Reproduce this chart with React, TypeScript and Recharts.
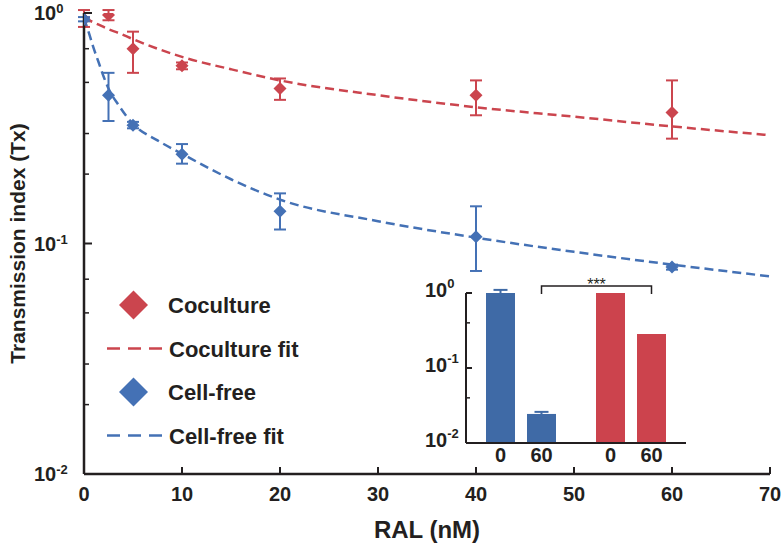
import React from 'react';
import { ComposedChart, BarChart, Bar, Line, Scatter, ErrorBar, XAxis, YAxis, Legend, Cell, Label } from 'recharts';

const RED = '#cb454e';
const BLUE = '#4471b5';
const INSET_BLUE = '#3f6aa6';
const INSET_RED = '#cc434d';
const INK = '#231f20';
const FONT = '"Liberation Sans", Arial, sans-serif';

// measured points: Tx vs RAL dose (nM), with error bar ends
const ralDoses = [0, 2.5, 5, 10, 20, 40, 60];
const cocultureTx = [0.94, 0.98, 0.7, 0.59, 0.47, 0.44, 0.37];
const cocultureLow = [0.87, 0.93, 0.55, 0.57, 0.42, 0.36, 0.285];
const cocultureHigh = [1.03, 1.03, 0.83, 0.61, 0.52, 0.51, 0.51];
const cellFreeTx = [0.94, 0.44, 0.326, 0.244, 0.138, 0.107, 0.079];
const cellFreeLow = [0.92, 0.34, 0.316, 0.222, 0.115, 0.076, 0.077];
const cellFreeHigh = [0.96, 0.55, 0.337, 0.27, 0.165, 0.145, 0.081];

// dashed fit curves
const fitDoses = [0, 0.5, 1, 1.5, 2, 2.5, 3.5, 5, 7.5, 10, 15, 20, 30, 40, 50, 60, 70];
const cocultureFit = [0.95, 0.93, 0.91, 0.89, 0.87, 0.85, 0.82, 0.77, 0.7, 0.645, 0.57, 0.51, 0.44, 0.39, 0.355, 0.322, 0.295];
const cellFreeFit = [0.95, 0.82, 0.7, 0.61, 0.53, 0.47, 0.4, 0.33, 0.28, 0.245, 0.19, 0.155, 0.125, 0.106, 0.092, 0.081, 0.072];

// inset: Tx at 0 and 60 nM
const insetGroups = ['Cell-free', 'Coculture'];
const insetDoseLabels = ['0', '60'];
const insetAt0 = [1.0, 1.0];
const insetAt60 = [0.0244, 0.284];
const insetAt0Err = [0.1, null];
const insetAt60Err = [0.0016, null];

const xTicks = [0, 10, 20, 30, 40, 50, 60, 70];
const logTicks = [0.01, 0.02, 0.03, 0.04, 0.05, 0.06, 0.07, 0.08, 0.09, 0.1, 0.2, 0.3, 0.4, 0.5, 0.6, 0.7, 0.8, 0.9, 1];

const points = (ys: number[], lo: number[], hi: number[]) =>
  ralDoses.map((x, i) => ({ x, y: ys[i], err: [ys[i] - lo[i], hi[i] - ys[i]] }));
const coculturePoints = points(cocultureTx, cocultureLow, cocultureHigh);
const cellFreePoints = points(cellFreeTx, cellFreeLow, cellFreeHigh);
const cocultureCurve = fitDoses.map((x, i) => ({ x, y: cocultureFit[i] }));
const cellFreeCurve = fitDoses.map((x, i) => ({ x, y: cellFreeFit[i] }));
const insetData = insetGroups.map((g, i) => ({
  group: g, d0: insetAt0[i], d60: insetAt60[i], e0: insetAt0Err[i], e60: insetAt60Err[i],
}));
const insetColors = [INSET_BLUE, INSET_RED];

const isDecade = (v: number) => {
  const l = Math.log10(v);
  return Math.abs(l - Math.round(l)) < 1e-6;
};

const makeLogTick = (gap: number, majorLen: number, minorLen: number, labelDx: number, dy: number, supDy: number) =>
  (props: any) => {
    const { x, y, payload } = props;
    const ax = x + gap;
    const v = payload.value;
    const major = isDecade(v);
    return (
      <g>
        <line x1={ax} x2={ax + (major ? majorLen : minorLen)} y1={y} y2={y} stroke={INK} strokeWidth={major ? 2 : 1.5} />
        {major && (
          <text x={ax - labelDx} y={y + dy} fontFamily={FONT} fontWeight="bold" fontSize={20} fill={INK}>
            10<tspan dy={supDy} fontSize={13}>{Math.round(Math.log10(v))}</tspan>
          </text>
        )}
      </g>
    );
  };

const MainYTick = makeLogTick(10, 8, 5, 50, 7, -7);
const InsetYTick = makeLogTick(10, 6, 4, 41, 4, -9);

const MainXTick = (props: any) => {
  const { x, y, payload } = props;
  const ay = y - 10;
  return (
    <g>
      <line x1={x} x2={x} y1={ay} y2={ay - 7} stroke={INK} strokeWidth={2} />
      <text x={x} y={ay + 27} textAnchor="middle" fontFamily={FONT} fontWeight="bold" fontSize={20} fill={INK}>
        {payload.value}
      </text>
    </g>
  );
};

const INSET_BAR = 29;
const INSET_GAP = 12;

const InsetXTick = (props: any) => {
  const { x, y } = props;
  const half = (INSET_BAR + INSET_GAP) / 2;
  return (
    <g>
      {insetDoseLabels.map((d, i) => (
        <text key={d} x={x + (i === 0 ? -half : half)} y={y + 19} textAnchor="middle" fontFamily={FONT} fontWeight="bold" fontSize={20} fill={INK}>
          {d}
        </text>
      ))}
    </g>
  );
};

const Diamond = (r: number) => (props: any) => {
  const { cx, cy, fill } = props;
  return <polygon points={`${cx},${cy - r} ${cx + r},${cy} ${cx},${cy + r} ${cx - r},${cy}`} fill={fill} />;
};

const legendItems = [
  { label: 'Coculture', color: RED, kind: 'marker' },
  { label: 'Coculture fit', color: RED, kind: 'line' },
  { label: 'Cell-free', color: BLUE, kind: 'marker' },
  { label: 'Cell-free fit', color: BLUE, kind: 'line' },
];

const LegendBox = () => (
  <svg width={230} height={170}>
    {legendItems.map((item, i) => {
      const cy = 20 + i * 43.5;
      return (
        <g key={item.label}>
          {item.kind === 'marker' ? (
            <polygon points={`33.5,${cy - 14.5} 48,${cy} 33.5,${cy + 14.5} 19,${cy}`} fill={item.color} />
          ) : (
            <line x1={7} x2={63} y1={cy} y2={cy} stroke={item.color} strokeWidth={2.5} strokeDasharray="13 8" />
          )}
          <text x={item.kind === 'marker' ? 68 : 69} y={cy + 8} fontFamily={FONT} fontWeight="bold" fontSize={22} fill={INK}>
            {item.label}
          </text>
        </g>
      );
    })}
  </svg>
);

export default function App() {
  const insetLeft = 420;
  const insetTop = 270;
  const insetW = 270;
  const insetYAxisW = 46;
  const insetPlotW = insetW - insetYAxisW - 4;
  const band = insetPlotW / insetGroups.length;
  const half = (INSET_BAR + INSET_GAP) / 2;
  const bx1 = insetLeft + insetYAxisW + band / 2 + half;
  const bx2 = insetLeft + insetYAxisW + band * 1.5 + half;

  return (
    <div style={{ position: 'absolute', left: 0, top: 0, width: 781, height: 547, background: '#fff' }}>
      <ComposedChart width={781} height={547} margin={{ top: 13, right: 11, bottom: 0, left: 0 }}>
        <XAxis
          type="number"
          dataKey="x"
          domain={[0, 70]}
          ticks={xTicks}
          allowDataOverflow
          height={73}
          axisLine={{ stroke: INK, strokeWidth: 2.5 }}
          tickLine={false}
          tickSize={0}
          tickMargin={10}
          tick={MainXTick}
        >
          <Label
            content={(p: any) => (
              <text x={p.viewBox.x + p.viewBox.width / 2} y={p.viewBox.y + 64} textAnchor="middle" fontFamily={FONT} fontWeight="bold" fontSize={24} fill={INK}>
                RAL (nM)
              </text>
            )}
          />
        </XAxis>
        <YAxis
          type="number"
          dataKey="y"
          scale="log"
          domain={[0.01, 1]}
          ticks={logTicks}
          allowDataOverflow
          width={84}
          axisLine={{ stroke: INK, strokeWidth: 2.5 }}
          tickLine={false}
          tickSize={0}
          tickMargin={10}
          tick={MainYTick}
        >
          <Label
            content={(p: any) => {
              const cx = p.viewBox.x + 25;
              const cy = p.viewBox.y + p.viewBox.height / 2;
              return (
                <text x={cx} y={cy} transform={`rotate(-90, ${cx}, ${cy})`} textAnchor="middle" fontFamily={FONT} fontWeight="bold" fontSize={21} fill={INK}>
                  Transmission index (Tx)
                </text>
              );
            }}
          />
        </YAxis>
        <Line data={cocultureCurve} dataKey="y" name="Coculture fit" type="monotone" stroke={RED} strokeWidth={2.5} strokeDasharray="9 5" dot={false} activeDot={false} isAnimationActive={false} />
        <Line data={cellFreeCurve} dataKey="y" name="Cell-free fit" type="monotone" stroke={BLUE} strokeWidth={2.5} strokeDasharray="9 5" dot={false} activeDot={false} isAnimationActive={false} />
        <Scatter data={coculturePoints} dataKey="y" name="Coculture" fill={RED} shape={Diamond(6.5)} isAnimationActive={false}>
          <ErrorBar dataKey="err" direction="y" width={6} stroke={RED} strokeWidth={2} isAnimationActive={false} />
        </Scatter>
        <Scatter data={cellFreePoints} dataKey="y" name="Cell-free" fill={BLUE} shape={Diamond(6.5)} isAnimationActive={false}>
          <ErrorBar dataKey="err" direction="y" width={6} stroke={BLUE} strokeWidth={2} isAnimationActive={false} />
        </Scatter>
        <Legend
          layout="vertical"
          align="center"
          verticalAlign="middle"
          wrapperStyle={{ left: 100, top: 285, width: 230, height: 170 }}
          content={LegendBox}
        />
      </ComposedChart>

      <div style={{ position: 'absolute', left: insetLeft, top: insetTop, width: insetW, height: 200 }}>
        <BarChart width={insetW} height={200} data={insetData} margin={{ top: 23, right: 4, bottom: 0, left: 0 }} barSize={INSET_BAR} barGap={INSET_GAP}>
          <XAxis dataKey="group" type="category" height={27} axisLine={{ stroke: INK, strokeWidth: 2 }} tickLine={false} tickSize={0} tickMargin={0} tick={InsetXTick} />
          <YAxis
            type="number"
            scale="log"
            domain={[0.01, 1]}
            ticks={logTicks}
            allowDataOverflow
            width={insetYAxisW}
            axisLine={{ stroke: INK, strokeWidth: 2 }}
            tickLine={false}
            tickSize={0}
            tickMargin={10}
            tick={InsetYTick}
          />
          <Bar dataKey="d0" isAnimationActive={false}>
            {insetData.map((d, i) => <Cell key={d.group} fill={insetColors[i]} />)}
            <ErrorBar dataKey="e0" width={7} stroke={INSET_BLUE} strokeWidth={2} isAnimationActive={false} />
          </Bar>
          <Bar dataKey="d60" isAnimationActive={false}>
            {insetData.map((d, i) => <Cell key={d.group} fill={insetColors[i]} />)}
            <ErrorBar dataKey="e60" width={7} stroke={INSET_BLUE} strokeWidth={2} isAnimationActive={false} />
          </Bar>
        </BarChart>
      </div>

      <svg width={781} height={547} style={{ position: 'absolute', left: 0, top: 0, pointerEvents: 'none' }}>
        <path d={`M${bx1},294 V286 H${bx2} V294`} fill="none" stroke={INK} strokeWidth={1.5} />
        <text x={(bx1 + bx2) / 2} y={290} textAnchor="middle" fontFamily={FONT} fontSize={16} fill={INK}>***</text>
      </svg>
    </div>
  );
}
